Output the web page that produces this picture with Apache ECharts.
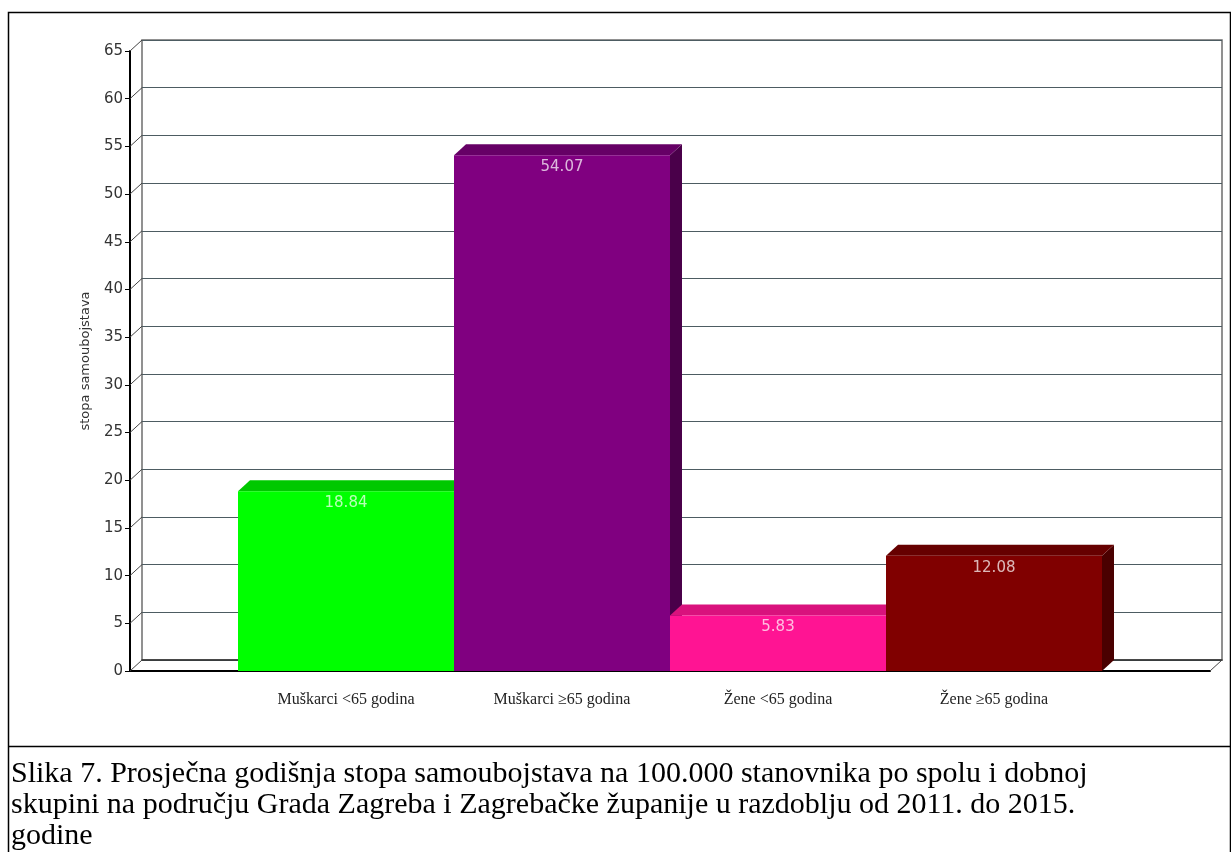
<!DOCTYPE html>
<html>
<head>
<meta charset="utf-8">
<script src="https://cdn.jsdelivr.net/npm/echarts@6/dist/echarts.min.js"></script>
<style>
html, body { margin: 0; padding: 0; background: #fff; }
#chart { width: 1231px; height: 852px; }
</style>
</head>
<body>
<div id="chart"></div>
<script>
// podaci
var categories = ['Muškarci <65 godina', 'Muškarci ≥65 godina', 'Žene <65 godina', 'Žene ≥65 godina'];
var values = [18.84, 54.07, 5.83, 12.08];
var yTicks = [0, 5, 10, 15, 20, 25, 30, 35, 40, 45, 50, 55, 60, 65];
var frontColors = ['#00ff00', '#800080', '#ff1493', '#800000'];
var topColors = ['#00c800', '#660066', '#d9127d', '#660000'];
var sideColors = ['#009900', '#4a004a', '#a80e60', '#4a0000'];
var captionLines = [
    'Slika 7. Prosječna godišnja stopa samoubojstava na 100.000 stanovnika po spolu i dobnoj',
    'skupini na području Grada Zagreba i Zagrebačke županije u razdoblju od 2011. do 2015.',
    'godine'
];

var DX = 12, DY = -11; // dubina 3D efekta
var chart = echarts.init(document.getElementById('chart'));

// dijagonale od prednje osi do zadnjeg zida
var connData = yTicks.map(function (v) { return [-1, v]; });
connData.push([4, 0]);

var option = {
    animation: false,
    grid: [
        { left: 130, right: 21, top: 51, bottom: 181 },
        { left: 142, right: 9, top: 40, bottom: 192, show: true, borderColor: '#6e6e6e', borderWidth: 1.5, backgroundColor: 'transparent' }
    ],
    xAxis: [{
        type: 'value', gridIndex: 0, min: -1, max: 4, interval: 1,
        axisLine: { show: true, onZero: false, lineStyle: { color: '#000', width: 2 } },
        axisTick: { show: false },
        splitLine: { show: false },
        axisLabel: {
            margin: 21,
            fontFamily: 'Liberation Serif', fontSize: 16, color: '#222',
            formatter: function (v) { return categories[v] || ''; }
        }
    }, {
        type: 'value', gridIndex: 1, min: -1, max: 4, interval: 1,
        axisLine: { show: true, onZero: false, lineStyle: { color: '#333', width: 1.5 } },
        axisTick: { show: false }, axisLabel: { show: false }, splitLine: { show: false }
    }],
    yAxis: [{
        type: 'value', gridIndex: 0, min: 0, max: 65, interval: 5,
        axisLine: { show: true, onZero: false, lineStyle: { color: '#000', width: 2 } },
        axisTick: { show: true, length: 5, lineStyle: { color: '#000' } },
        axisLabel: { margin: 7, fontFamily: 'DejaVu Sans', fontSize: 15, color: '#333' },
        splitLine: { show: false },
        name: 'stopa samoubojstava', nameLocation: 'middle', nameGap: 38,
        nameTextStyle: { fontFamily: 'DejaVu Sans', fontSize: 13, color: '#333' }
    }, {
        type: 'value', gridIndex: 1, min: 0, max: 65, interval: 5,
        axisLine: { show: false, onZero: false }, axisTick: { show: false }, axisLabel: { show: false },
        splitLine: { show: true, lineStyle: { color: '#4d5c62', width: 1.2 } }
    }],
    series: [{
        type: 'custom', xAxisIndex: 0, yAxisIndex: 0, z: 2, silent: true,
        data: connData,
        renderItem: function (params, api) {
            var p = api.coord([api.value(0), api.value(1)]);
            return {
                type: 'line',
                shape: { x1: p[0], y1: p[1], x2: p[0] + DX, y2: p[1] + DY },
                style: { stroke: '#444', lineWidth: 1 }
            };
        }
    }, {
        type: 'custom', xAxisIndex: 0, yAxisIndex: 0, z: 3, silent: true,
        data: values.map(function (v, i) { return [i, v]; }),
        renderItem: function (params, api) {
            var i = api.value(0), v = api.value(1);
            var p0 = api.coord([i - 0.5, 0]);
            var p1 = api.coord([i + 0.5, v]);
            var x0 = p0[0], x1 = p1[0], yb = p0[1], yt = p1[1];
            return {
                type: 'group',
                children: [{
                    type: 'polygon',
                    shape: { points: [[x1, yt], [x1 + DX, yt + DY], [x1 + DX, yb + DY], [x1, yb]] },
                    style: { fill: sideColors[i] }
                }, {
                    type: 'polygon',
                    shape: { points: [[x0, yt], [x0 + DX, yt + DY], [x1 + DX, yt + DY], [x1, yt]] },
                    style: { fill: topColors[i] }
                }, {
                    type: 'rect',
                    shape: { x: x0, y: yt, width: x1 - x0, height: yb - yt },
                    style: { fill: frontColors[i] }
                }, {
                    type: 'text',
                    style: {
                        text: v.toFixed(2), x: (x0 + x1) / 2, y: yt + 12,
                        align: 'center', verticalAlign: 'middle',
                        fill: 'rgba(255,255,255,0.72)', font: '15px "DejaVu Sans"'
                    }
                }]
            };
        }
    }],
    graphic: [{
        type: 'rect', silent: true,
        shape: { x: 8.5, y: 12.5, width: 1222, height: 860 },
        style: { fill: null, stroke: '#000', lineWidth: 1.5 }
    }, {
        type: 'line', silent: true,
        shape: { x1: 8, y1: 746.5, x2: 1231, y2: 746.5 },
        style: { stroke: '#000', lineWidth: 1.5 }
    }, {
        type: 'text', silent: true, left: 11, top: 759,
        style: {
            text: captionLines.join('\n'),
            font: '30px "Liberation Serif"', lineHeight: 31, fill: '#000'
        }
    }]
};
chart.setOption(option);
</script>
</body>
</html>
